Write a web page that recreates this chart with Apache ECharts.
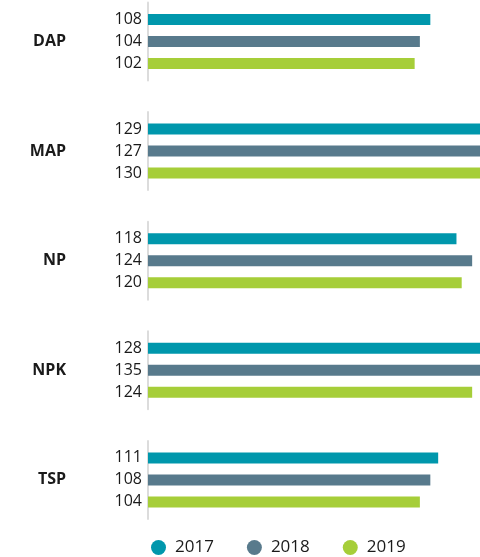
<!DOCTYPE html>
<html>
<head>
<meta charset="utf-8">
<script src="https://cdn.jsdelivr.net/npm/echarts@6/dist/echarts.min.js"></script>
<style>html,body{margin:0;padding:0;background:#fff}#c{width:480px;height:557px}</style>
</head>
<body>
<div id="c"></div>
<script>
var categories = ['DAP', 'MAP', 'NP', 'NPK', 'TSP'];
var seriesNames = ['2017', '2018', '2019'];
var v2017 = [108, 129, 118, 128, 111];
var v2018 = [104, 127, 124, 135, 108];
var v2019 = [102, 130, 120, 124, 104];
var values = [v2017, v2018, v2019];
var colors = ['#0097ac', '#587a8c', '#a6ce39'];

var font = "'Open Sans', 'Noto Sans', sans-serif";
var grids = [], xAxes = [], yAxes = [], series = [];
categories.forEach(function (cat, i) {
  grids.push({ left: 148, right: 0, top: 2.5 + 109.6 * i, height: 78, containLabel: false });
  xAxes.push({ type: 'value', gridIndex: i, min: 0, max: 127, show: false });
  yAxes.push({
    type: 'category', gridIndex: i, data: [cat],
    axisLine: { show: true, lineStyle: { color: '#dcdcdc', width: 2 } },
    axisTick: { show: false },
    axisLabel: { margin: 82, fontSize: 16, fontWeight: 'bold', color: '#1a1a1a', fontFamily: font }
  });
  seriesNames.forEach(function (name, s) {
    series.push({
      type: 'bar', name: name, xAxisIndex: i, yAxisIndex: i,
      data: [values[s][i]],
      barWidth: 11, barGap: '100%',
      itemStyle: { color: colors[s] },
      label: { show: true, position: 'left', distance: 6, fontSize: 16, color: '#1a1a1a', fontFamily: font },
      silent: true, animation: false
    });
  });
});

var chart = echarts.init(document.getElementById('c'), null, { renderer: 'canvas' });
chart.setOption({
  animation: false,
  grid: grids, xAxis: xAxes, yAxis: yAxes, series: series,
  legend: {
    data: seriesNames, left: 146, top: 534, icon: 'circle',
    itemWidth: 15, itemHeight: 15, itemGap: 33,
    textStyle: { fontSize: 17, color: '#1a1a1a', fontFamily: font, padding: [0, 0, 0, 4] }
  }
});
</script>
</body>
</html>
